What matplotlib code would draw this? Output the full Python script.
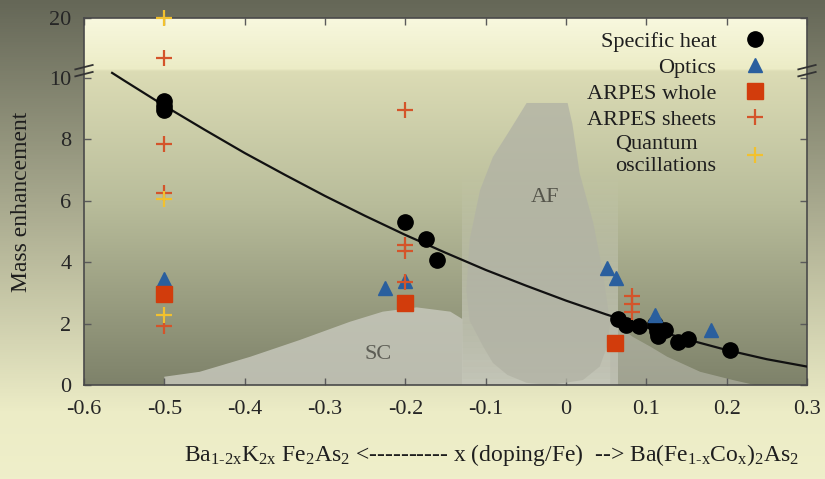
import numpy as np
import matplotlib
matplotlib.use("Agg")
import matplotlib.pyplot as plt
from matplotlib.colors import LinearSegmentedColormap

# ---- fonts: Times-like serif everywhere, upright subscripts ----
plt.rcParams['font.family'] = ['Liberation Serif', 'DejaVu Serif']
plt.rcParams['mathtext.fontset'] = 'custom'
plt.rcParams['mathtext.rm'] = 'Liberation Serif'
plt.rcParams['mathtext.it'] = 'Liberation Serif'
plt.rcParams['mathtext.bf'] = 'Liberation Serif:bold'

# ---- data ----
curve_x = [-0.565, -0.55, -0.5, -0.45, -0.4, -0.35, -0.3, -0.25, -0.2, -0.15,
           -0.1, -0.05, 0.0, 0.05, 0.1, 0.15, 0.2, 0.25, 0.3]
curve_y = [10.17, 9.92, 9.10, 8.32, 7.56, 6.85, 6.16, 5.51, 4.89, 4.31,
           3.75, 3.24, 2.75, 2.30, 1.88, 1.49, 1.14, 0.84, 0.60]

heat_x = [-0.5, -0.5, -0.5, -0.2, -0.174, -0.161,
          0.065, 0.075, 0.091, 0.111, 0.113, 0.115, 0.123, 0.14, 0.152, 0.204]
heat_y = [9.25, 9.1, 8.95, 5.3, 4.75, 4.07,
          2.14, 1.96, 1.93, 2.0, 1.75, 1.6, 1.8, 1.41, 1.5, 1.14]

optics_x = [-0.5, -0.225, -0.2, 0.051, 0.062, 0.111, 0.181]
optics_y = [3.45, 3.15, 3.39, 3.8, 3.5, 2.28, 1.8]

whole_x = [-0.5, -0.2, 0.061]
whole_y = [2.95, 2.66, 1.36]

sheets_x = [-0.5, -0.5, -0.5, -0.5, -0.2, -0.2, -0.2, -0.2, 0.082, 0.082, 0.082]
sheets_y = [12.4, 7.85, 6.26, 1.92, 8.96, 4.56, 4.37, 3.37, 2.9, 2.65, 2.38]

qo_x = [-0.5, -0.5, -0.5]
qo_y = [20, 6.05, 2.28]

# phase diagram shapes
sc_left_x = [-0.5, -0.5, -0.456, -0.393, -0.331, -0.269, -0.228, -0.186, -0.144, -0.129, -0.129]
sc_left_y = [0, 0.27, 0.43, 0.92, 1.47, 2.06, 2.39, 2.53, 2.39, 2.15, 0]

sc_right_x = [0.055, 0.055, 0.067, 0.083, 0.105, 0.126, 0.167, 0.208, 0.235]
sc_right_y = [0, 2.1, 1.9, 1.57, 1.25, 0.92, 0.43, 0.16, 0]

af_x = [-0.049, -0.07, -0.091, -0.107, -0.12, -0.124, -0.12, -0.103, -0.091, -0.073,
        -0.049, -0.02, 0.021, 0.042, 0.051, 0.055, 0.046, 0.034, 0.017, 0.008, 0.002]
af_y = [9.19, 8.3, 7.43, 6.35, 4.72, 3.09, 2.1, 1.25, 0.72, 0.33,
        0.07, 0.0, 0.16, 0.6, 1.25, 2.0, 3.65, 5.28, 6.9, 8.5, 9.19]

band_x = [-0.129, 0.065]

xticks = [-0.6, -0.5, -0.4, -0.3, -0.2, -0.1, 0, 0.1, 0.2, 0.3]
xtick_labels = ['-0.6', '-0.5', '-0.4', '-0.3', '-0.2', '-0.1', '0', '0.1', '0.2', '0.3']
yticks = [0, 2, 4, 6, 8, 10, 20]

# ---- broken y axis: linear up to BRK, compressed above ----
BRK = 10.3
K = 0.171


def fwd(y):
    y = np.asarray(y, dtype=float)
    return np.where(y <= BRK, y, BRK + (y - BRK) * K)


def inv(u):
    u = np.asarray(u, dtype=float)
    return np.where(u <= BRK, u, BRK + (u - BRK) / K)


W, H = 825, 479
fig = plt.figure(figsize=(W / 100, H / 100), dpi=100)

# slide background (dark top -> pale yellow bottom), pixel exact
cmap_fig = LinearSegmentedColormap.from_list(
    'fig', [(0, '#656757'), (0.86, '#ececc6'), (1, '#efefca')])
rows = cmap_fig(np.linspace(0, 1, H))[:, :3]
slide = np.repeat(rows[:, None, :], W, axis=1)
fig.figimage(slide, xo=0, yo=0, origin='upper', zorder=-20)

pos = [84 / W, 1 - 385 / H, (807 - 84) / W, (385 - 18) / H]

# plot area background (pale top -> darker olive bottom)
grad = np.linspace(0, 1, 256).reshape(-1, 1)
bax = fig.add_axes(pos, zorder=-5)
bax.axis('off')
cmap_ax = LinearSegmentedColormap.from_list(
    'ax', [(0, '#f8f8de'), (0.139, '#ececc6'), (0.142, '#dcdcb5'),
           (0.5, '#b9bd9b'), (1, '#7e826a')])
bax.imshow(grad, aspect='auto', cmap=cmap_ax, extent=[0, 1, 0, 1], origin='upper')

ax = fig.add_axes(pos)
ax.patch.set_visible(False)
ax.set_yscale('function', functions=(fwd, inv))

# phase diagram: pale band fading out upwards
levels = np.linspace(0, 7, 36)
for y0, y1 in zip(levels[:-1], levels[1:]):
    a = 0.8 * (1 - 0.5 * (y0 + y1) / 7)
    ax.fill_between(band_x, y0, y1, color='#d6d7cc', alpha=a, lw=0, zorder=1)
ax.fill(sc_left_x, sc_left_y, color='#c6c7bb', alpha=0.85, lw=0, zorder=1)
ax.fill(sc_right_x, sc_right_y, color='#b8b9ac', alpha=0.6, lw=0, zorder=1)
ax.fill(af_x, af_y, color='#b2b3a5', alpha=0.8, lw=0, zorder=2)
ax.text(-0.026, 6.1, 'AF', fontsize=16, color='#55554b', ha='center', va='center', zorder=2)
ax.text(-0.234, 0.98, 'SC', fontsize=16, color='#5d5d55', ha='center', va='center', zorder=2)

# fit curve
ax.plot(curve_x, curve_y, color='#111111', lw=1.6, zorder=3)

# data
h1, = ax.plot(heat_x, heat_y, 'o', color='black', ms=11, ls='none', zorder=4, clip_on=False)
h2, = ax.plot(optics_x, optics_y, '^', color='#2a5f9e', ms=10, ls='none', zorder=4, clip_on=False)
h3, = ax.plot(whole_x, whole_y, 's', color='#d23c0c', ms=11, ls='none', zorder=4, clip_on=False)
h4, = ax.plot(sheets_x, sheets_y, '+', color='#d4542a', ms=12, mew=1.6, ls='none', zorder=5, clip_on=False)
h5, = ax.plot(qo_x, qo_y, '+', color='#f2c12e', ms=12, mew=1.6, ls='none', zorder=5, clip_on=False)

ax.set_xlim(-0.6, 0.3)
ax.set_ylim(0, 20)
ax.set_xticks(xticks)
ax.set_xticklabels(xtick_labels)
ax.set_yticks(yticks)
ax.set_yticklabels([str(t) for t in yticks])
ax.tick_params(direction='in', top=True, right=True, length=5, width=1,
               color='#5a5a5a', labelcolor='#262626', labelsize=16)
ax.tick_params(axis='x', pad=11)
ax.tick_params(axis='y', pad=9)
for s in ax.spines.values():
    s.set_color('#4a4a4a')
    s.set_linewidth(1.2)

# break marks at 10 on both sides
for xa in (0, 1):
    for ya in (0.847, 0.866):
        ax.plot([xa - 0.012, xa + 0.012], [ya - 0.006, ya + 0.006], transform=ax.transAxes,
                color='#333333', lw=1.3, clip_on=False, zorder=6)

ax.set_ylabel('Mass enhancement', fontsize=17, color='#1e1e1e')
ax.yaxis.set_label_coords(-0.072, 0.5)
ax.set_xlabel('Ba$_{\\mathrm{1\u20102x}}$K$_{\\mathrm{2x}}$ Fe$_{2}$As$_{2}$ <---------- x (doping/Fe)  '
              '--> Ba(Fe$_{\\mathrm{1\u2010x}}$Co$_{\\mathrm{x}}$)$_{2}$As$_{2}$',
              fontsize=17, color='#1e1e1e')
ax.xaxis.set_label_coords(0.564, -0.19)
ax.xaxis.label.set_va('center')

leg = ax.legend([h1, h2, h3, h4, h5],
                ['Specific heat', 'Optics', 'ARPES whole', 'ARPES sheets', 'Quantum\noscillations'],
                loc='upper right', bbox_to_anchor=(772 / W, 1 - 31 / H),
                bbox_transform=fig.transFigure, frameon=False, markerfirst=False,
                fontsize=16, handlelength=1.5, handletextpad=1.0, labelspacing=0.25,
                borderpad=0, borderaxespad=0)
for t in leg.get_texts():
    t.set_color('#1e1e1e')
# right-align the label column like the original
for col in leg._legend_handle_box.get_children():
    col.align = 'right'

fig.savefig('out.png', dpi=100)
